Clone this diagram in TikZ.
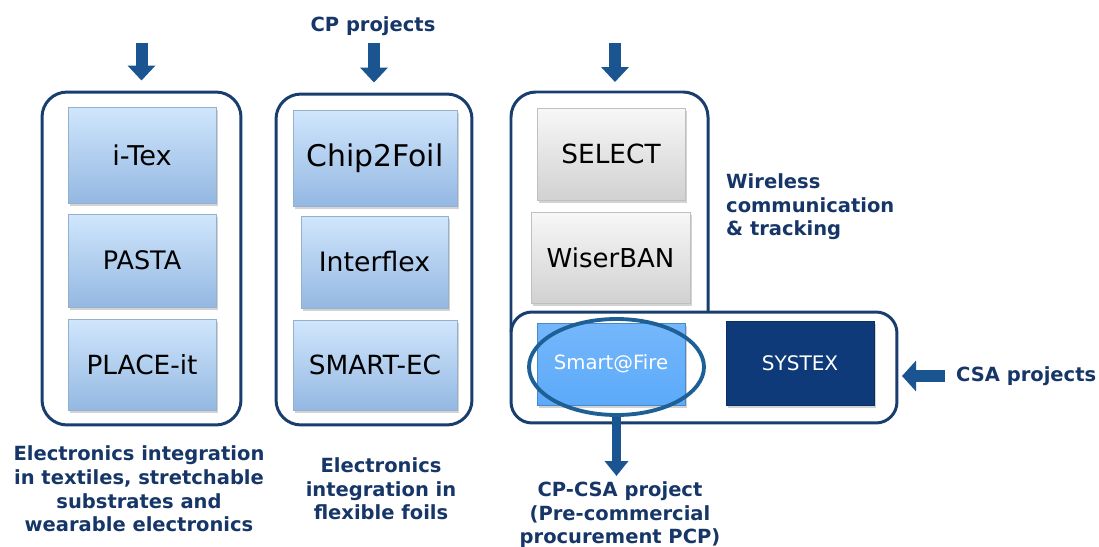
\documentclass[tikz,border=0pt]{standalone}
\usepackage{fontspec}
\setmainfont{DejaVu Sans}
\usetikzlibrary{arrows.meta,shapes.geometric,shadows}

\definecolor{navy}{RGB}{22,54,104}
\definecolor{grpline}{RGB}{25,62,110}
\definecolor{arrblue}{RGB}{26,84,145}
\definecolor{ringblue}{RGB}{30,95,150}
\definecolor{blutop}{RGB}{208,230,252}
\definecolor{blubot}{RGB}{148,184,226}
\definecolor{blubord}{RGB}{150,175,205}
\definecolor{fireblue}{RGB}{92,170,250}
\definecolor{systexblue}{RGB}{14,58,122}

\tikzset{
  grp/.style={draw=grpline, line width=1.7pt, rounded corners=0.5cm},
  projbox/.style={rectangle, inner sep=0pt, minimum width=2.96cm,
    drop shadow={opacity=0.35, shadow xshift=1pt, shadow yshift=-1.5pt}},
  blubox/.style={projbox, draw=blubord, top color=blutop, bottom color=blubot},
  grybox/.style={projbox, draw=black!25, top color=black!3, bottom color=black!18},
  bigarr/.style={draw=arrblue, line width=0.24cm, -{Triangle[width=0.54cm,length=0.3cm]}},
  lbl/.style={text=navy, font=\fontsize{11.1}{13.4}\selectfont\bfseries, align=center}
}

\begin{document}
\begin{tikzpicture}[x=0.02cm, y=-0.02cm]
\useasboundingbox (0,0) rectangle (1099,547);

% group frames
\node[grp, minimum width=3.98cm, minimum height=6.66cm] (leftgrp) at (141.5,258.5) {};
\node[grp, minimum width=3.92cm, minimum height=6.62cm] (midgrp) at (374,259.5) {};
\draw[draw=grpline, line width=1.7pt, rounded corners=0.5cm]
  (511,332) -- (511,92) -- (708,92) -- (708,313);
\node[grp, rounded corners=0.42cm, minimum width=7.72cm, minimum height=2.22cm] (csagrp) at (704,367.5) {};

% CP projects
\node[blubox, minimum height=1.92cm, font=\fontsize{15.5}{18}\selectfont] (itex) at (142,155) {i-Tex};
\node[blubox, minimum height=1.86cm, font=\fontsize{14.5}{17}\selectfont] (pasta) at (142,260.5) {PASTA};
\node[blubox, minimum height=1.82cm, font=\fontsize{15}{18}\selectfont] (placeit) at (142,364.5) {PLACE-it};

\node[blubox, minimum width=3.28cm, minimum height=1.92cm, font=\fontsize{17}{20}\selectfont] (chip) at (375,158) {Chip2Foil};
\node[blubox, minimum width=2.94cm, minimum height=1.84cm, font=\fontsize{15.2}{18}\selectfont] (interflex) at (374.5,262) {Interflex};
\node[blubox, minimum width=3.28cm, minimum height=1.80cm, font=\fontsize{15}{18}\selectfont] (smartec) at (375,365) {SMART-EC};

\node[grybox, minimum height=1.84cm, font=\fontsize{15}{18}\selectfont] (select) at (611,154) {SELECT};
\node[grybox, minimum width=3.18cm, minimum height=1.82cm, font=\fontsize{14.8}{18}\selectfont] (wiserban) at (610.5,257.5) {WiserBAN};

% CSA projects
\node[projbox, draw=fireblue!80!black, top color=fireblue!85!white, bottom color=fireblue,
  minimum height=1.64cm, text=white, font=\fontsize{11.2}{14}\selectfont] (smartfire) at (611,364) {Smart@Fire};
\node[projbox, draw=systexblue!80!black, fill=systexblue, minimum height=1.68cm,
  text=white, font=\fontsize{11.4}{14}\selectfont] (systex) at (800,363) {SYSTEX};
\node[ellipse, draw=ringblue, line width=2.2pt, minimum width=3.5cm, minimum height=1.92cm,
  inner sep=0pt] (ring) at (616.5,367) {};

% arrows
\coordinate (tleft) at (141.5,43);
\coordinate (tmid) at (374,43);
\coordinate (tright) at (615,43);
\coordinate (wltop) at (615,92);
\coordinate (csafrom) at (945,376);
\coordinate (csato) at (902,376);
\coordinate (pcpto) at (616.5,476);

\draw[bigarr, shorten >=0.2cm] (tleft) -- (leftgrp.north);
\draw[bigarr, shorten >=0.2cm] (tmid) -- (midgrp.north);
\draw[bigarr, shorten >=0.2cm] (tright) -- (wltop);
\draw[bigarr, line width=0.26cm, -{Triangle[width=0.6cm,length=0.28cm]}] (csafrom) -- (csato);
\draw[bigarr, line width=0.18cm, -{Triangle[width=0.46cm,length=0.3cm]}] (ring.south) -- (pcpto);

% labels
\node[lbl] (cplbl) at (373,26) {CP projects};
\node[lbl, anchor=west, align=left] (wirelbl) at (720,207) {Wireless\\communication\\\& tracking};
\node[lbl, anchor=west] (csalbl) at (950,376) {CSA projects};
\node[lbl] (leftlbl) at (139,489) {Electronics integration\\in textiles, stretchable\\substrates and\\wearable electronics};
\node[lbl] (midlbl) at (381,489) {Electronics\\integration in\\flexible foils};
\node[lbl] (pcplbl) at (620,515) {CP-CSA project\\(Pre-commercial\\procurement PCP)};
\end{tikzpicture}
\end{document}
